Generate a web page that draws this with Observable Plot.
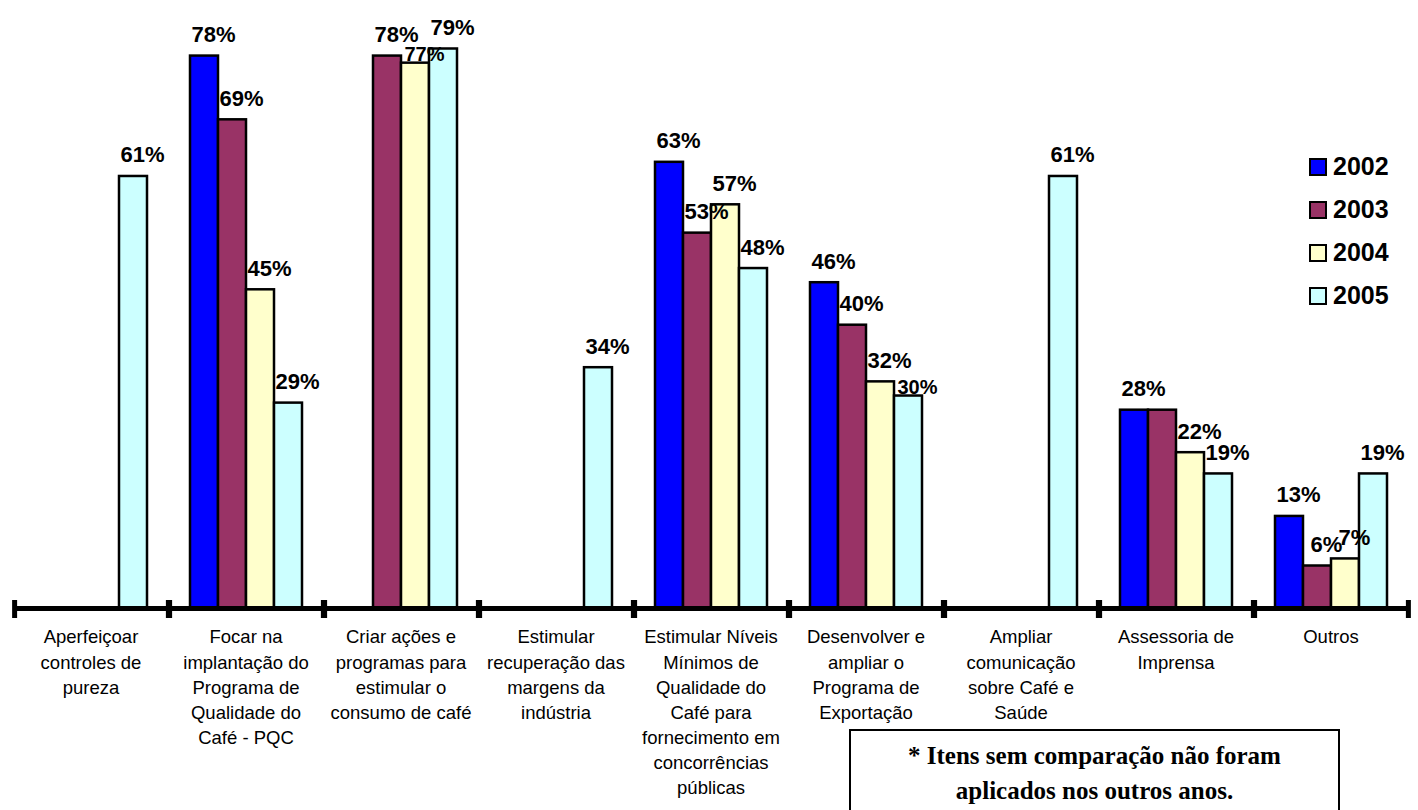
<!DOCTYPE html>
<html>
<head>
<meta charset="utf-8">
<script src="https://cdn.jsdelivr.net/npm/d3@7"></script>
<script src="https://cdn.jsdelivr.net/npm/@observablehq/plot@0.6"></script>
<style>
  html, body { margin: 0; padding: 0; background: #fff; }
  #wrap { position: relative; width: 1418px; height: 810px; overflow: hidden; font-family: Arial, "Liberation Sans", sans-serif; }
  #legend { position: absolute; left: 1309px; top: 145px; }
  .li { display: flex; align-items: center; height: 43px; font-weight: bold; font-size: 25px; }
  .sw { width: 14px; height: 14px; border: 2px solid #000; margin-right: 6px; }
  #note { position: absolute; left: 849px; top: 729px; width: 491px; height: 120px; border: 2px solid #000; background: #fff;
          font-family: "Liberation Serif", "Times New Roman", serif; font-weight: bold; font-size: 25px; line-height: 35px;
          text-align: center; padding-top: 7px; box-sizing: border-box; }
</style>
</head>
<body>
<div id="wrap">
  <div id="chart"></div>
  <div id="legend"></div>
  <div id="note">* Itens sem comparação não foram<br>aplicados nos outros anos.</div>
</div>
<script>
const categories = [
  "Aperfeiçoar\ncontroles de\npureza",
  "Focar na\nimplantação do\nPrograma de\nQualidade do\nCafé - PQC",
  "Criar ações e\nprogramas para\nestimular o\nconsumo de café",
  "Estimular\nrecuperação das\nmargens da\nindústria",
  "Estimular Níveis\nMínimos de\nQualidade do\nCafé para\nfornecimento em\nconcorrências\npúblicas",
  "Desenvolver e\nampliar o\nPrograma de\nExportação",
  "Ampliar\ncomunicação\nsobre Café e\nSaúde",
  "Assessoria de\nImprensa",
  "Outros"
];
const years = ["2002", "2003", "2004", "2005"];
const values2002 = [null, 78, null, null, 63, 46, null, 28, 13];
const values2003 = [null, 69, 78, null, 53, 40, null, 28, 6];
const values2004 = [null, 45, 77, null, 57, 32, null, 22, 7];
const values2005 = [61, 29, 79, 34, 48, 30, 61, 19, 19];
const colors = ["#0000FF", "#993366", "#FFFFCC", "#CCFFFF"];

const series = [values2002, values2003, values2004, values2005];
const rows = [];
categories.forEach((cat, i) => {
  years.forEach((year, k) => {
    const v = series[k][i];
    if (v != null) rows.push({cat, year, value: v, prev: k > 0 ? series[k - 1][i] : null});
  });
});
// one label when two adjacent bars carry the same value
const labelRows = rows.filter(d => d.prev !== d.value);
// a label just below its left neighbour's sits tight on its bar, as in the original
const isTight = d => d.prev != null && d.value < d.prev && d.prev - d.value < 3;
const looseLabels = labelRows.filter(d => !isTight(d));
const tightLabels = labelRows.filter(isTight);

const paddingOuter = 0.72;
const facetW = (1418 - 10 - 8) / categories.length;
const step = facetW / (years.length + 2 * paddingOuter);
const edge = step * (paddingOuter + 0.5);

const labelStyle = {fx: "cat", x: "year", y: "value", text: d => d.value + "%", lineAnchor: "bottom", dx: 9, fontWeight: "bold", fill: "black"};

const chart = Plot.plot({
  width: 1418,
  height: 810,
  marginLeft: 10,
  marginRight: 8,
  marginTop: 6,
  marginBottom: 202,
  fx: {domain: categories, padding: 0, axis: null},
  x: {domain: years, paddingInner: 0, paddingOuter, axis: null},
  y: {domain: [0, 85], axis: null},
  color: {domain: years, range: colors},
  style: {fontFamily: "Arial, 'Liberation Sans', sans-serif", background: "white", color: "black"},
  marks: [
    Plot.barY(rows, {fx: "cat", x: "year", y: "value", fill: "year", stroke: "black", strokeWidth: 2.5}),
    Plot.ruleY(categories, {fx: d => d, y: () => 0, stroke: "black", strokeWidth: 5}),
    Plot.ruleX(categories, {fx: d => d, x: () => "2002", y1: () => 0, y2: () => 0, dx: -edge, insetTop: -8, insetBottom: -10, stroke: "black", strokeWidth: 5}),
    Plot.ruleX(categories, {fx: d => d, x: () => "2005", y1: () => 0, y2: () => 0, dx: edge, insetTop: -8, insetBottom: -10, stroke: "black", strokeWidth: 5}),
    Plot.text(looseLabels, {...labelStyle, dy: -14, fontSize: 22}),
    Plot.text(tightLabels, {...labelStyle, dy: -2, fontSize: 20}),
    Plot.text(categories, {fx: d => d, text: d => d, frameAnchor: "bottom", lineAnchor: "top", dy: 17, fontSize: 18.5, lineHeight: 1.36, fill: "black"})
  ]
});
document.getElementById("chart").appendChild(chart);

const legend = document.getElementById("legend");
years.forEach((y, k) => {
  const item = document.createElement("div");
  item.className = "li";
  item.innerHTML = `<span class="sw" style="background:${colors[k]}"></span><span>${y}</span>`;
  legend.appendChild(item);
});
</script>
</body>
</html>
